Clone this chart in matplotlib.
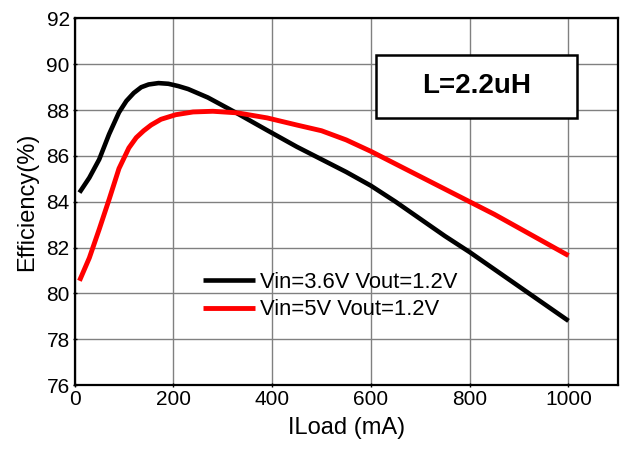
import matplotlib.pyplot as plt
from matplotlib.patches import Rectangle

plt.rcParams["font.family"] = ["Liberation Sans", "DejaVu Sans"]

# efficiency curves
iload_36 = [10, 30, 50, 70, 90, 105, 120, 135, 150, 170, 190, 210, 230, 270, 330, 390,
            450, 500, 550, 600, 650, 700, 750, 800, 850, 900, 950, 1000]
eff_36 = [84.4, 85.05, 85.85, 86.95, 87.9, 88.4, 88.75, 89.0, 89.12, 89.18, 89.15, 89.05, 88.92,
          88.55, 87.85, 87.12, 86.4, 85.85, 85.3, 84.7, 84.0, 83.25, 82.5, 81.8, 81.05, 80.3, 79.55, 78.8]

iload_5 = [10, 30, 50, 70, 90, 110, 125, 140, 155, 175, 205, 240, 280, 330, 390,
           450, 500, 550, 600, 650, 700, 750, 800, 850, 900, 950, 1000]
eff_5 = [80.55, 81.55, 82.8, 84.1, 85.45, 86.35, 86.8, 87.1, 87.35, 87.6, 87.8, 87.92, 87.95,
         87.88, 87.66, 87.35, 87.1, 86.7, 86.2, 85.65, 85.1, 84.55, 84.0, 83.45, 82.85, 82.25, 81.65]

labels = ["Vin=3.6V Vout=1.2V", "Vin=5V Vout=1.2V"]
xticks = [0, 200, 400, 600, 800, 1000]
yticks = [76, 78, 80, 82, 84, 86, 88, 90, 92]

fig = plt.figure(figsize=(6.21, 4.5), dpi=100)
ax = fig.add_axes([0.12, 0.1444, 0.875, 0.8145])

ax.plot(iload_36, eff_36, color="black", lw=3.3, label=labels[0], solid_capstyle="butt")
ax.plot(iload_5, eff_5, color="red", lw=3.5, label=labels[1], solid_capstyle="butt")

ax.set_xlim(0, 1100)
ax.set_ylim(76, 92)
ax.set_xticks(xticks)
ax.set_yticks(yticks)
ax.grid(True, color="#808080", lw=1)
ax.set_axisbelow(True)
ax.tick_params(labelsize=15, length=3, width=1, direction="inout", pad=2)
for sp in ax.spines.values():
    sp.set_linewidth(1.6)

ax.set_xlabel("ILoad (mA)", fontsize=17, labelpad=6)
ax.set_ylabel("Efficiency(%)", fontsize=17, labelpad=6)

leg = ax.legend(loc="center left", bbox_to_anchor=(0.236, 0.243), frameon=False,
                fontsize=15.8, handlelength=2.4, handletextpad=0.2,
                borderpad=0, borderaxespad=0, labelspacing=0.31)

# inductor value box
ax.add_patch(Rectangle((0.555, 0.729), 0.37, 0.171, transform=ax.transAxes,
                       facecolor="white", edgecolor="black", lw=1.8, zorder=5))
ax.text(0.74, 0.8145, "L=2.2uH", transform=ax.transAxes, ha="center", va="center",
        fontsize=20, fontweight="bold", zorder=6)

fig.savefig("out.png", dpi=100)
